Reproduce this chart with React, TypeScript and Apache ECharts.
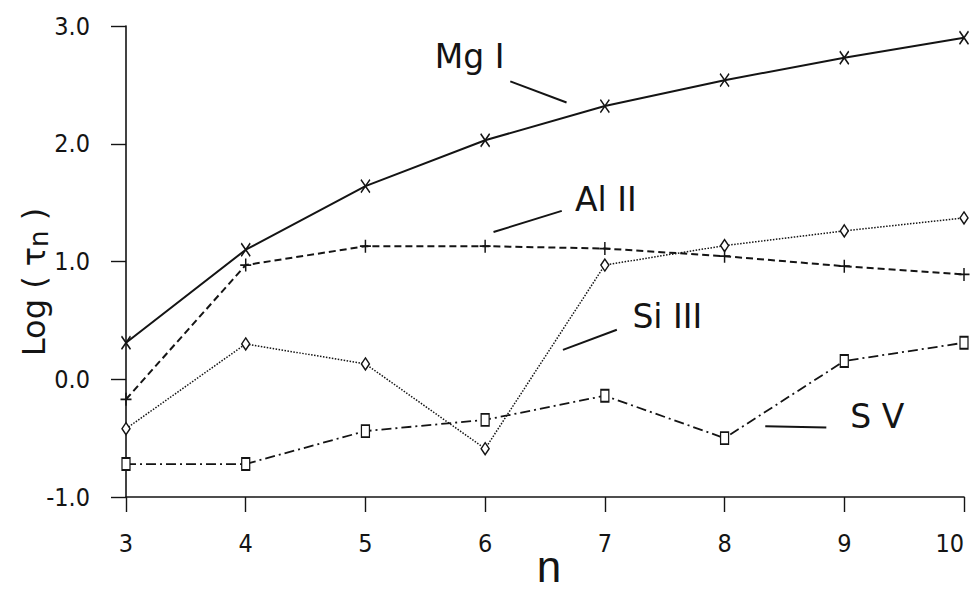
import React, { useEffect, useRef } from "react";
import * as echarts from "echarts";

// ---- data ----
const N = [3, 4, 5, 6, 7, 8, 9, 10];
const MG_I = [0.31, 1.1, 1.64, 2.03, 2.32, 2.54, 2.73, 2.9];
const AL_II = [-0.17, 0.97, 1.13, 1.13, 1.11, 1.045, 0.96, 0.89];
const SI_III = [-0.42, 0.3, 0.13, -0.59, 0.97, 1.135, 1.26, 1.37];
const S_V = [-0.72, -0.72, -0.44, -0.345, -0.14, -0.5, 0.155, 0.31];
const Y_TICKS = [-1, 0, 1, 2, 3];
const X_TITLE = "n";

// annotation labels (data coords) and leader lines (data coords)
const LABELS = [
  { text: "Mg I", at: [5.58, 2.74], from: [6.21, 2.53], to: [6.68, 2.35] },
  { text: "Al II", at: [6.75, 1.53], from: [6.07, 1.25], to: [6.64, 1.43] },
  { text: "Si III", at: [7.23, 0.53], from: [6.65, 0.25], to: [7.1, 0.42] },
  { text: "S V", at: [9.05, -0.32], from: [8.34, -0.4], to: [8.85, -0.41] },
];

const INK = "#141414";
const NARROW = "'Liberation Sans Narrow', 'DejaVu Sans Condensed', 'Liberation Sans', sans-serif";

const pairs = (ys: number[]) => N.map((n, i) => [n, ys[i]]);

export default function App() {
  const ref = useRef<HTMLDivElement>(null);
  useEffect(() => {
    if (!ref.current) return;
    const chart = echarts.init(ref.current, null, { renderer: "svg" });
    const option: any = {
      animation: false,
      backgroundColor: "#ffffff",
      grid: { left: 126, right: 6, top: 26, bottom: 97, containLabel: false, outerBoundsMode: "none" },
      xAxis: {
        type: "value",
        min: 3,
        max: 10,
        interval: 1,
        axisLine: { onZero: false, lineStyle: { color: INK, width: 1.6 } },
        axisTick: { show: true, length: 15, lineStyle: { color: INK, width: 1.4 } },
        axisLabel: { margin: 34, fontSize: 25, fontFamily: NARROW, color: INK, alignMaxLabel: "right" },
        splitLine: { show: false },
      },
      yAxis: {
        type: "value",
        min: Y_TICKS[0],
        max: Y_TICKS[Y_TICKS.length - 1],
        interval: 1,
        axisLine: { show: true, onZero: false, lineStyle: { color: INK, width: 1.6 } },
        axisTick: { show: true, length: 15, lineStyle: { color: INK, width: 1.4 } },
        axisLabel: {
          margin: 36,
          fontSize: 25,
          fontFamily: NARROW,
          color: INK,
          formatter: (v: number) => v.toFixed(1),
        },
        splitLine: { show: false },
      },
      series: [
        {
          name: "Mg I",
          type: "line",
          data: pairs(MG_I),
          symbol: "path://M0 0L10 14M10 0L0 14",
          symbolSize: [9, 13],
          lineStyle: { color: INK, width: 2, type: "solid" },
          itemStyle: { color: "rgba(0,0,0,0)", borderColor: INK, borderWidth: 1.6 },
          z: 5,
        },
        {
          name: "Al II",
          type: "line",
          data: pairs(AL_II),
          symbol: "path://M5 0L5 14M0 7L10 7",
          symbolSize: [11, 13],
          lineStyle: { color: INK, width: 2, type: [7, 4] },
          itemStyle: { color: "rgba(0,0,0,0)", borderColor: INK, borderWidth: 1.6 },
          z: 4,
        },
        {
          name: "Si III",
          type: "line",
          data: pairs(SI_III),
          symbol: "diamond",
          symbolSize: [8, 12],
          lineStyle: { color: INK, width: 1.5, type: [1.5, 1.5] },
          itemStyle: { color: "#ffffff", borderColor: INK, borderWidth: 1.5 },
          z: 3,
        },
        {
          name: "S V",
          type: "line",
          data: pairs(S_V),
          symbol: "rect",
          symbolSize: [8, 12],
          lineStyle: { color: INK, width: 1.8, type: [10, 4, 2, 4] },
          itemStyle: { color: "#ffffff", borderColor: INK, borderWidth: 1.5 },
          z: 2,
        },
      ],
    };
    chart.setOption(option);

    const toPx = (p: number[]) => chart.convertToPixel({ gridIndex: 0 }, p) as number[];
    const graphics: any[] = [];
    LABELS.forEach((l) => {
      const a = toPx(l.at);
      const f = toPx(l.from);
      const t = toPx(l.to);
      graphics.push({
        type: "text",
        x: a[0],
        y: a[1],
        style: {
          text: l.text,
          fontSize: 33,
          fontFamily: "'DejaVu Sans', sans-serif",
          fill: INK,
          align: "left",
          verticalAlign: "middle",
        },
      });
      graphics.push({
        type: "line",
        shape: { x1: f[0], y1: f[1], x2: t[0], y2: t[1] },
        style: { stroke: INK, lineWidth: 2 },
      });
    });
    // y-axis title
    graphics.push({
      type: "text",
      x: 34,
      y: 282,
      rotation: Math.PI / 2,
      style: {
        text: "Log ( τ{sub|n} )",
        fontSize: 32,
        fontFamily: "'DejaVu Sans', sans-serif",
        fill: INK,
        align: "center",
        verticalAlign: "middle",
        rich: {
          sub: { fontSize: 26, fontFamily: "'DejaVu Sans', sans-serif", fill: INK, padding: [10, 0, 0, 0] },
        },
      },
    });
    // x-axis title, centred under the plot
    const mid = toPx([(N[0] + N[N.length - 1]) / 2, Y_TICKS[0]]);
    graphics.push({
      type: "text",
      x: mid[0] + 4,
      y: 588,
      style: {
        text: X_TITLE,
        fontSize: 44,
        fontFamily: "'Liberation Sans', sans-serif",
        fill: INK,
        align: "center",
        verticalAlign: "bottom",
      },
    });
    chart.setOption({ graphic: graphics });
    return () => chart.dispose();
  }, []);
  return (
    <div
      ref={ref}
      style={{ position: "fixed", left: 0, top: 0, width: 970, height: 594, background: "#fff" }}
    />
  );
}
